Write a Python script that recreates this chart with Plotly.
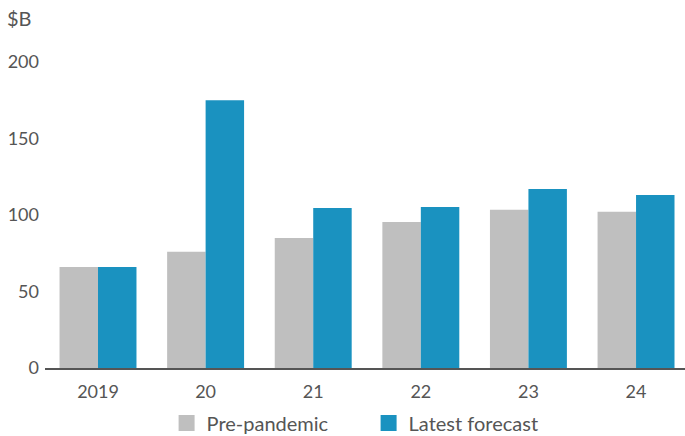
import plotly.graph_objects as go

categories = ["2019", "20", "21", "22", "23", "24"]
pre_pandemic = [66, 76, 85, 95.4, 103.4, 102.1]
latest_forecast = [66, 175, 104.6, 105.2, 117, 113.1]
y_ticks = [0, 50, 100, 150, 200]

GREY = "#bfbfbf"
BLUE = "#1a92c0"
TEXT = "#555555"
FONT = "Lato"

fig = go.Figure()
fig.add_trace(go.Bar(x=categories, y=pre_pandemic, name="Pre-pandemic",
                     marker=dict(color=GREY, line=dict(width=0)), showlegend=False))
fig.add_trace(go.Bar(x=categories, y=latest_forecast, name="Latest forecast",
                     marker=dict(color=BLUE, line=dict(width=0)), showlegend=False))
# legend entries with larger square swatches
fig.add_trace(go.Scatter(x=[None], y=[None], mode="markers", name="Pre-pandemic",
                         marker=dict(symbol="square", size=16, color=GREY)))
fig.add_trace(go.Scatter(x=[None], y=[None], mode="markers", name="Latest forecast",
                         marker=dict(symbol="square", size=16, color=BLUE)))

fig.update_layout(
    width=685, height=436,
    margin=dict(l=45, r=0, t=62, b=68, autoexpand=False),
    paper_bgcolor="white", plot_bgcolor="white",
    barmode="group", bargap=0.285, bargroupgap=0,
    font=dict(family=FONT, size=18, color=TEXT),
    showlegend=True,
    legend=dict(orientation="h", x=0.19, xanchor="left",
                yref="container", y=13 / 436, yanchor="middle",
                bgcolor="rgba(0,0,0,0)",
                font=dict(family=FONT, size=20, color=TEXT),
                itemwidth=30, traceorder="normal", entrywidthmode="pixels", entrywidth=157),
    annotations=[dict(text="$B", xref="paper", yref="paper", x=-0.0625, y=1.145,
                      xanchor="left", yanchor="middle", showarrow=False,
                      font=dict(family=FONT, size=20, color=TEXT))],
)
fig.update_xaxes(type="category", range=[-0.4926, 5.455], showline=True, linecolor="#555555",
                 linewidth=2, ticks="", showgrid=False, zeroline=False,
                 tickfont=dict(family=FONT, size=18, color=TEXT), ticklabelstandoff=6)
fig.update_yaxes(range=[0, 200], tickvals=y_ticks, showline=False, showgrid=False,
                 zeroline=False, ticks="", ticklabelstandoff=5,
                 tickfont=dict(family=FONT, size=18, color=TEXT))

fig.write_html("out.html")
